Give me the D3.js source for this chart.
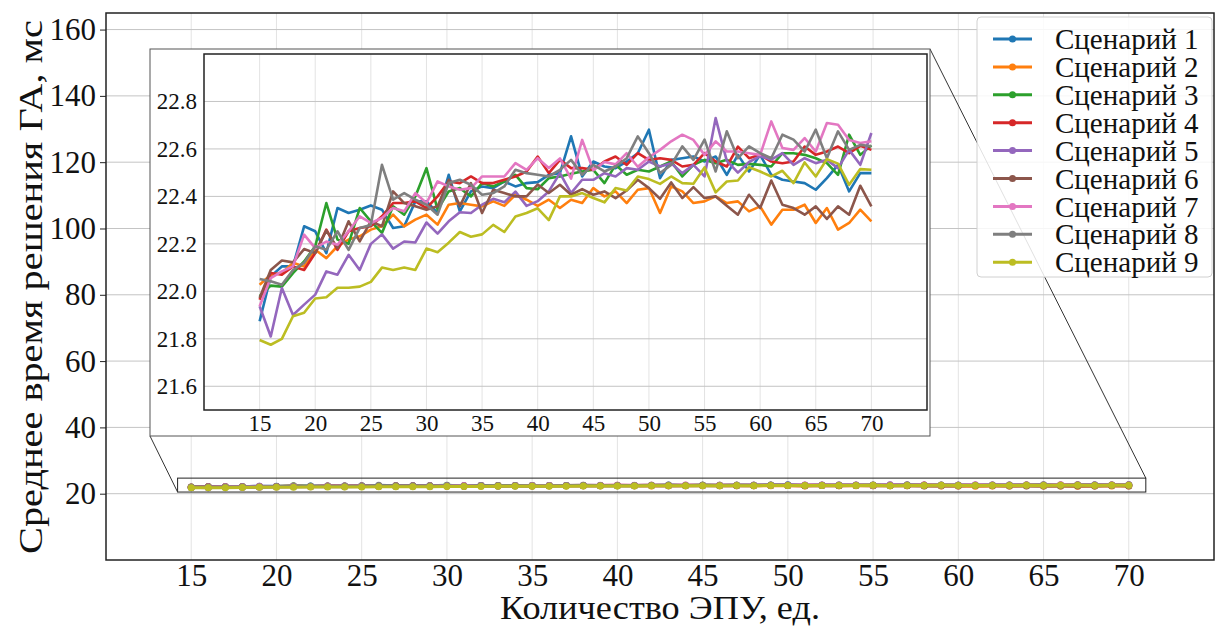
<!DOCTYPE html>
<html>
<head>
<meta charset="utf-8">
<script src="https://cdn.jsdelivr.net/npm/d3@7"></script>
<style>
  body { margin: 0; background: #fff; }
</style>
</head>
<body>
<div class="container_graph"></div>
<script>
const units = [15,16,17,18,19,20,21,22,23,24,25,26,27,28,29,30,31,32,33,34,35,36,37,38,39,40,41,42,43,44,45,46,47,48,49,50,51,52,53,54,55,56,57,58,59,60,61,62,63,64,65,66,67,68,69,70];

const scenario1 = [21.874,22.063,22.105,22.105,22.274,22.253,22.161,22.351,22.33,22.344,22.362,22.344,22.267,22.274,22.379,22.379,22.33,22.491,22.337,22.421,22.442,22.435,22.463,22.442,22.456,22.46,22.491,22.498,22.653,22.484,22.547,22.526,22.519,22.547,22.582,22.681,22.477,22.554,22.561,22.568,22.547,22.568,22.491,22.575,22.505,22.575,22.491,22.47,22.463,22.456,22.428,22.477,22.533,22.421,22.498,22.498];
const scenario2 = [22.028,22.07,22.077,22.12,22.105,22.175,22.14,22.19,22.218,22.232,22.26,22.274,22.323,22.274,22.302,22.323,22.281,22.365,22.372,22.365,22.358,22.379,22.36,22.407,22.386,22.36,22.386,22.351,22.386,22.372,22.435,22.4,22.421,22.372,22.428,22.435,22.33,22.442,22.421,22.372,22.379,22.4,22.372,22.379,22.337,22.358,22.281,22.344,22.344,22.365,22.288,22.351,22.26,22.288,22.344,22.295];
const scenario3 = [21.98,22.024,22.02,22.077,22.126,22.19,22.372,22.218,22.2,22.351,22.295,22.246,22.358,22.323,22.4,22.519,22.344,22.421,22.435,22.4,22.456,22.442,22.463,22.491,22.435,22.43,22.477,22.484,22.495,22.505,22.512,22.456,22.533,22.491,22.512,22.505,22.526,22.547,22.484,22.533,22.554,22.54,22.554,22.533,22.537,22.533,22.526,22.582,22.582,22.575,22.561,22.54,22.491,22.66,22.575,22.615];
const scenario4 = [21.965,22.077,22.07,22.105,22.09,22.161,22.26,22.175,22.253,22.267,22.274,22.316,22.372,22.372,22.379,22.351,22.4,22.463,22.456,22.484,22.456,22.456,22.47,22.484,22.505,22.568,22.498,22.554,22.519,22.519,22.512,22.547,22.568,22.533,22.582,22.554,22.561,22.554,22.526,22.533,22.582,22.547,22.526,22.61,22.561,22.575,22.547,22.54,22.547,22.61,22.575,22.589,22.61,22.582,22.613,22.596];
const scenario5 = [21.937,21.81,22.014,21.9,21.944,21.986,22.084,22.07,22.154,22.09,22.2,22.24,22.18,22.21,22.206,22.29,22.243,22.295,22.333,22.33,22.365,22.39,22.375,22.42,22.36,22.38,22.421,22.498,22.414,22.47,22.47,22.498,22.484,22.519,22.512,22.547,22.526,22.54,22.498,22.533,22.484,22.73,22.55,22.5,22.545,22.57,22.555,22.582,22.533,22.561,22.54,22.554,22.519,22.596,22.533,22.667];
const scenario6 = [21.972,22.09,22.13,22.122,22.178,22.161,22.257,22.182,22.295,22.21,22.295,22.274,22.421,22.372,22.358,22.344,22.358,22.47,22.358,22.456,22.33,22.428,22.414,22.4,22.4,22.45,22.414,22.449,22.407,22.431,22.407,22.421,22.393,22.425,22.47,22.435,22.39,22.459,22.393,22.439,22.393,22.4,22.361,22.323,22.407,22.351,22.467,22.365,22.351,22.323,22.358,22.305,22.358,22.323,22.445,22.358];
const scenario7 = [21.937,22.056,22.084,22.105,22.239,22.182,22.21,22.196,22.253,22.316,22.288,22.309,22.351,22.337,22.414,22.372,22.463,22.442,22.428,22.435,22.484,22.484,22.484,22.54,22.512,22.561,22.52,22.56,22.475,22.638,22.51,22.545,22.535,22.582,22.525,22.565,22.596,22.632,22.66,22.638,22.575,22.632,22.589,22.589,22.582,22.575,22.716,22.604,22.596,22.646,22.589,22.709,22.702,22.638,22.625,22.632];
const scenario8 = [22.052,22.042,22.028,22.09,22.12,22.19,22.175,22.253,22.175,22.267,22.28,22.533,22.386,22.414,22.386,22.365,22.323,22.456,22.47,22.449,22.407,22.414,22.442,22.512,22.498,22.491,22.484,22.512,22.554,22.491,22.533,22.505,22.526,22.561,22.653,22.582,22.498,22.533,22.611,22.554,22.639,22.505,22.674,22.561,22.611,22.582,22.561,22.66,22.639,22.589,22.681,22.561,22.674,22.596,22.617,22.611];
const scenario9 = [21.795,21.775,21.8,21.895,21.91,21.97,21.975,22.015,22.015,22.02,22.04,22.1,22.09,22.1,22.09,22.18,22.165,22.205,22.25,22.23,22.24,22.28,22.25,22.315,22.33,22.35,22.3,22.4,22.4,22.414,22.393,22.375,22.435,22.425,22.484,22.473,22.453,22.484,22.456,22.453,22.522,22.417,22.463,22.467,22.523,22.505,22.484,22.508,22.456,22.543,22.484,22.557,22.538,22.449,22.515,22.512];

const seriesNames = ["Сценарий 1","Сценарий 2","Сценарий 3","Сценарий 4","Сценарий 5","Сценарий 6","Сценарий 7","Сценарий 8","Сценарий 9"];
const seriesColors = ["#1f77b4","#ff7f0e","#2ca02c","#d62728","#9467bd","#8c564b","#e377c2","#7f7f7f","#bcbd22"];
const seriesValues = [scenario1,scenario2,scenario3,scenario4,scenario5,scenario6,scenario7,scenario8,scenario9];

const xTicks = [15,20,25,30,35,40,45,50,55,60,65,70];
const yTicksMain = [20,40,60,80,100,120,140,160];
const yTicksInset = [21.6,21.8,22.0,22.2,22.4,22.6,22.8];
const zoomBox = { x0: 14.2, x1: 71.0, y0: 20.5, y1: 24.7 };

document.addEventListener("DOMContentLoaded", function () {
  const width = 1217;
  const height = 626;

  const svg = d3.select(".container_graph")
    .append("svg")
    .attr("width", width)
    .attr("height", height);

  // main axes
  const x = d3.scaleLinear().domain([10, 75]).range([106, 1214]);
  const y = d3.scaleLinear().domain([0, 165]).range([560, 13]);

  const grid = svg.append("g");
  grid.selectAll(".vx").data(xTicks).enter().append("line")
    .attr("x1", d => x(d)).attr("x2", d => x(d))
    .attr("y1", y(165)).attr("y2", y(0))
    .attr("stroke", "#e3e3e3").attr("stroke-width", 1);
  grid.selectAll(".hy").data(yTicksMain).enter().append("line")
    .attr("x1", x(10)).attr("x2", x(75))
    .attr("y1", d => y(d)).attr("y2", d => y(d))
    .attr("stroke", "#c4c4c4").attr("stroke-width", 1);

  const line = d3.line().x((d, i) => x(units[i])).y(d => y(d));

  seriesValues.forEach((vals, k) => {
    svg.append("path").datum(vals)
      .attr("d", line)
      .attr("fill", "none")
      .attr("stroke", seriesColors[k])
      .attr("stroke-width", 3);
    svg.append("g").selectAll("circle").data(vals).enter().append("circle")
      .attr("cx", (d, i) => x(units[i]))
      .attr("cy", d => y(d))
      .attr("r", 3.5)
      .attr("fill", seriesColors[k]);
  });

  svg.append("rect")
    .attr("x", x(10)).attr("y", y(165))
    .attr("width", x(75) - x(10)).attr("height", y(0) - y(165))
    .attr("fill", "none").attr("stroke", "#222").attr("stroke-width", 1.5);

  const gy = svg.append("g")
    .attr("transform", `translate(${x(10)},0)`)
    .call(d3.axisLeft(y).tickValues(yTicksMain).tickSize(6).tickPadding(4));
  const gx = svg.append("g")
    .attr("transform", `translate(0,${y(0)})`)
    .call(d3.axisBottom(x).tickValues(xTicks).tickSize(0).tickPadding(4));
  [gx, gy].forEach(g => {
    g.select(".domain").remove();
    g.selectAll("text").style("font-size", "31px").attr("fill", "#111");
    g.selectAll("line").attr("stroke", "#222");
  });

  svg.append("text")
    .attr("x", 660).attr("y", 619)
    .attr("text-anchor", "middle")
    .attr("textLength", 320)
    .attr("lengthAdjust", "spacingAndGlyphs")
    .style("font-size", "34px")
    .text("Количество ЭПУ, ед.");

  svg.append("text")
    .attr("transform", `translate(42, 287) rotate(-90)`)
    .attr("text-anchor", "middle")
    .attr("textLength", 534)
    .attr("lengthAdjust", "spacingAndGlyphs")
    .style("font-size", "34px")
    .text("Среднее время решения ГА, мс");

  // zoom marker and connectors
  svg.append("rect")
    .attr("x", x(zoomBox.x0)).attr("y", y(zoomBox.y1))
    .attr("width", x(zoomBox.x1) - x(zoomBox.x0))
    .attr("height", y(zoomBox.y0) - y(zoomBox.y1))
    .attr("fill", "none").attr("stroke", "#222").attr("stroke-width", 1);

  const inset = { left: 150, top: 49, right: 930, bottom: 436 };
  svg.append("line")
    .attr("x1", inset.left).attr("y1", inset.bottom)
    .attr("x2", x(zoomBox.x0)).attr("y2", y(zoomBox.y0))
    .attr("stroke", "#333").attr("stroke-width", 1);
  svg.append("line")
    .attr("x1", inset.right).attr("y1", inset.top)
    .attr("x2", x(zoomBox.x1)).attr("y2", y(zoomBox.y1))
    .attr("stroke", "#333").attr("stroke-width", 1);

  // inset
  svg.append("rect")
    .attr("x", inset.left).attr("y", inset.top)
    .attr("width", inset.right - inset.left).attr("height", inset.bottom - inset.top)
    .attr("fill", "#fff").attr("stroke", "#555").attr("stroke-width", 1);

  const xi = d3.scaleLinear().domain([10, 75]).range([204, 927]);
  const yi = d3.scaleLinear().domain([21.5, 23.0]).range([410, 54]);

  const igrid = svg.append("g");
  igrid.selectAll(".vx").data(xTicks).enter().append("line")
    .attr("x1", d => xi(d)).attr("x2", d => xi(d))
    .attr("y1", yi(23.0)).attr("y2", yi(21.5))
    .attr("stroke", "#e3e3e3").attr("stroke-width", 1);
  igrid.selectAll(".hy").data(yTicksInset).enter().append("line")
    .attr("x1", xi(10)).attr("x2", xi(75))
    .attr("y1", d => yi(d)).attr("y2", d => yi(d))
    .attr("stroke", "#c4c4c4").attr("stroke-width", 1);

  const iline = d3.line().x((d, i) => xi(units[i])).y(d => yi(d));
  seriesValues.forEach((vals, k) => {
    svg.append("path").datum(vals)
      .attr("d", iline)
      .attr("fill", "none")
      .attr("stroke", seriesColors[k])
      .attr("stroke-width", 2.6)
      .attr("stroke-linejoin", "round");
  });

  svg.append("rect")
    .attr("x", xi(10)).attr("y", yi(23.0))
    .attr("width", xi(75) - xi(10)).attr("height", yi(21.5) - yi(23.0))
    .attr("fill", "none").attr("stroke", "#222").attr("stroke-width", 1.5);

  const giy = svg.append("g")
    .attr("transform", `translate(${xi(10)},0)`)
    .call(d3.axisLeft(yi).tickValues(yTicksInset).tickFormat(d3.format(".1f")).tickSize(0).tickPadding(7));
  const gix = svg.append("g")
    .attr("transform", `translate(0,${yi(21.5)})`)
    .call(d3.axisBottom(xi).tickValues(xTicks).tickSize(0).tickPadding(5));
  [gix, giy].forEach(g => {
    g.select(".domain").remove();
    g.selectAll("text").style("font-size", "23px").attr("fill", "#111");
  });

  // legend
  const legend = svg.append("g").attr("transform", "translate(977,17)");
  legend.append("rect")
    .attr("width", 235).attr("height", 260)
    .attr("rx", 4)
    .attr("fill", "#fff").attr("fill-opacity", 0.85)
    .attr("stroke", "#d0d0d0").attr("stroke-width", 1);

  const items = legend.selectAll(".item").data(seriesNames).enter().append("g")
    .attr("transform", (d, i) => `translate(0,${22 + i * 27.9})`);
  items.append("line")
    .attr("x1", 16).attr("x2", 55)
    .attr("stroke", (d, i) => seriesColors[i]).attr("stroke-width", 3);
  items.append("circle")
    .attr("cx", 35.5).attr("r", 3.5)
    .attr("fill", (d, i) => seriesColors[i]);
  items.append("text")
    .attr("x", 78).attr("dy", "0.35em")
    .style("font-size", "29px")
    .text(d => d);

  svg.selectAll("text")
    .attr("font-family", null)
    .style("font-family", "'Liberation Serif'")
    .style("fill", "#111");
});
</script>
</body>
</html>
